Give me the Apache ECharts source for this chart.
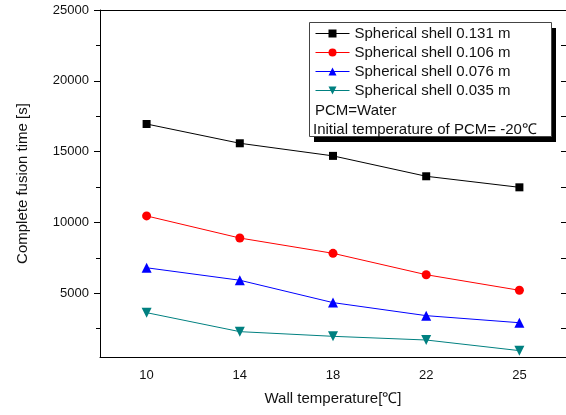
<!DOCTYPE html>
<html><head><meta charset="utf-8">
<script src="https://cdn.jsdelivr.net/npm/echarts@6/dist/echarts.min.js"></script>
<style>html,body{margin:0;padding:0;background:#fff}#c{width:566px;height:415px}</style>
</head><body><div id="c"></div>
<script>
const categories = ['10','14','18','22','25'];
const seriesNames = ['Spherical shell 0.131 m','Spherical shell 0.106 m','Spherical shell 0.076 m','Spherical shell 0.035 m'];
const shell131 = [16950, 15590, 14700, 13260, 12480];
const shell106 = [10460, 8900, 7820, 6310, 5210];
const shell076 = [6800, 5920, 4340, 3420, 2920];
const shell035 = [3630, 2290, 1960, 1700, 950];
const yMajorTicks = [5000, 10000, 15000, 20000, 25000];
const yMinorTicks = [2500, 7500, 12500, 17500, 22500];
const yAllTicks = [2500, 5000, 7500, 10000, 12500, 15000, 17500, 20000, 22500, 25000];
const noteLines = ['PCM=Water', 'Initial temperature of PCM= -20℃'];

const FF = '"Liberation Sans", Arial, sans-serif';
const chart = echarts.init(document.getElementById('c'), null, {renderer:'canvas'});
const lineC = {lineStyle:{color:'#000', width:1}};
const base = {min:500, max:25000};
function mkSeries(name, data, color, symbol, size, rot){
  return {name, type:'line', data, xAxisIndex:0, yAxisIndex:0, symbol, symbolSize:size, symbolRotate:rot||0,
    itemStyle:{color}, lineStyle:{color, width:1}, animation:false, z:3};
}
chart.setOption({
  animation:false,
  textStyle:{fontFamily:FF},
  grid:{left:100, top:10, width:467, height:347, containLabel:false},
  xAxis:[
    {type:'category', position:'bottom', data:categories, boundaryGap:true,
     axisLine:lineC, axisTick:{alignWithLabel:true, length:5, lineStyle:{color:'#000'}},
     axisLabel:{fontSize:13, color:'#111', margin:12, fontFamily:FF},
     name:'Wall temperature[℃]', nameLocation:'middle', nameGap:34,
     nameTextStyle:{fontSize:15, color:'#111', fontFamily:FF}, splitLine:{show:false}},
    {type:'category', position:'bottom', data:categories, boundaryGap:true,
     axisLine:{show:false}, axisTick:{alignWithLabel:false, length:3, lineStyle:{color:'#000'}},
     axisLabel:{show:false}, splitLine:{show:false}},
    {type:'category', position:'top', data:categories, boundaryGap:true,
     axisLine:lineC, axisTick:{alignWithLabel:true, inside:true, length:5, lineStyle:{color:'#000'}},
     axisLabel:{show:false}, splitLine:{show:false}},
    {type:'category', position:'top', data:categories, boundaryGap:true,
     axisLine:{show:false}, axisTick:{alignWithLabel:false, inside:true, length:5, lineStyle:{color:'#000'}},
     axisLabel:{show:false}, splitLine:{show:false}}
  ],
  yAxis:[
    Object.assign({type:'value', position:'left', axisLine:Object.assign({show:true}, lineC),
     axisTick:{show:true, length:6, customValues:yMajorTicks, lineStyle:{color:'#000'}},
     axisLabel:{fontSize:13, color:'#111', margin:11, customValues:yMajorTicks, fontFamily:FF,
       formatter:function(v){return String(v);}},
     splitLine:{show:false},
     name:'Complete fusion time [s]', nameLocation:'middle', nameGap:70,
     nameTextStyle:{fontSize:15, color:'#111', fontFamily:FF}}, base),
    Object.assign({type:'value', position:'left', axisLine:{show:false},
     axisTick:{show:true, length:4, customValues:yMinorTicks, lineStyle:{color:'#000'}},
     axisLabel:{show:false}, splitLine:{show:false}}, base),
    Object.assign({type:'value', position:'right', axisLine:Object.assign({show:true}, lineC),
     axisTick:{show:true, inside:true, length:5, customValues:yAllTicks, lineStyle:{color:'#000'}},
     axisLabel:{show:false}, splitLine:{show:false}}, base)
  ],
  legend:{
    orient:'vertical', left:315, top:24, padding:0, itemGap:0,
    itemWidth:34, itemHeight:10,
    lineStyle:{width:1},
    textStyle:{fontSize:15, color:'#111', lineHeight:19, fontFamily:FF},
    data:seriesNames
  },
  graphic:[
    {type:'rect', shape:{x:314, y:28, width:242, height:114}, style:{fill:'#000'}, z:1, silent:true},
    {type:'rect', shape:{x:309.5, y:22.5, width:242, height:114}, style:{fill:'#fff', stroke:'#444', lineWidth:1}, z:2, silent:true},
    {type:'text', left:315, top:103, style:{text:noteLines[0], font:'15px '+FF, fill:'#111'}, z:5},
    {type:'text', left:313, top:122, style:{text:noteLines[1], font:'15px '+FF, fill:'#111'}, z:5}
  ],
  series:[
    mkSeries(seriesNames[0], shell131, '#000000', 'rect', 8),
    mkSeries(seriesNames[1], shell106, '#ff0000', 'circle', 9),
    mkSeries(seriesNames[2], shell076, '#0000ff', 'triangle', 10),
    mkSeries(seriesNames[3], shell035, '#008080', 'triangle', 10, 180)
  ]
});
</script></body></html>
